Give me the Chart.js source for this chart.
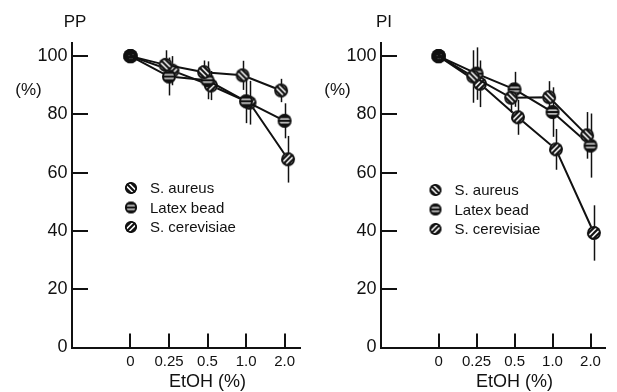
<!DOCTYPE html>
<html>
<head>
<meta charset="utf-8">
<script src="https://cdn.jsdelivr.net/npm/chart.js@4.4.1/dist/chart.umd.min.js"></script>
<style>
  html, body { margin: 0; padding: 0; background: #fff; }
  #wrap { position: relative; width: 617px; height: 392px; overflow: hidden; }
  .panel { position: absolute; top: 0; height: 392px; }
</style>
</head>
<body>
<div id="wrap">
  <div class="panel" style="left:0;width:309px"><canvas id="pp"></canvas></div>
  <div class="panel" style="left:309px;width:308px"><canvas id="pi"></canvas></div>
</div>
<script>
// ---- data ----
const categories = ['0', '0.25', '0.5', '1.0', '2.0'];
const yTicks = [0, 20, 40, 60, 80, 100];
const seriesNames = ['S. aureus', 'Latex bead', 'S. cerevisiae'];

// PP panel
const ppAureus    = [100, 97.0, 94.5, 93.4, 88.2];
const ppLatex     = [100, 93.0, 91.7, 84.5, 77.8];
const ppCerev     = [100, 95.0, 89.9, 84.0, 64.6];
const ppAureusErr = [0, 5.0, 4.0, 5.0, 4.0];
const ppLatexErr  = [0, 6.5, 6.5, 7.5, 6.0];
const ppCerevErr  = [0, 5.0, 5.0, 7.5, 8.0];

// PI panel
const piAureus    = [100, 93.0, 85.7, 85.9, 72.8];
const piLatex     = [100, 94.0, 88.6, 80.8, 69.3];
const piCerev     = [100, 90.5, 79.0, 68.0, 39.3];
const piAureusErr = [0, 9.0, 5.0, 5.5, 8.0];
const piLatexErr  = [0, 9.0, 6.0, 8.5, 11.0];
const piCerevErr  = [0, 8.0, 6.0, 7.0, 9.5];

// ---- styling ----
const INK = '#111';
const FONT = "'Liberation Sans', Arial, Helvetica, sans-serif";
const DODGE = [-0.09, 0, 0.09];

function makeMarker(kind, r) {
  const size = Math.ceil(r * 2 + 4);
  const c = document.createElement('canvas');
  c.width = size; c.height = size;
  const g = c.getContext('2d');
  const m = size / 2;
  g.beginPath(); g.arc(m, m, r, 0, Math.PI * 2);
  g.fillStyle = (kind === 'h' || kind === 'solid') ? INK : '#fff';
  g.fill();
  g.save();
  g.clip();
  g.translate(m, m);
  if (kind === 'h') {
    g.strokeStyle = '#fff'; g.lineWidth = 1.1;
    [-1.9, 1.9].forEach(o => { g.beginPath(); g.moveTo(-r - 2, o); g.lineTo(r + 2, o); g.stroke(); });
  } else if (kind === 'solid') {
    g.fillStyle = '#555';
    [[-2, -1], [1, 2], [2, -2], [-1, 2]].forEach(p => g.fillRect(p[0], p[1], 1, 1));
  } else {
    g.rotate(kind === 'b' ? Math.PI / 4 : -Math.PI / 4);
    g.strokeStyle = INK; g.lineWidth = 2.2;
    [-3.7, 0, 3.7].forEach(o => { g.beginPath(); g.moveTo(-r - 2, o); g.lineTo(r + 2, o); g.stroke(); });
  }
  g.restore();
  g.beginPath(); g.arc(m, m, r - 0.8, 0, Math.PI * 2);
  g.lineWidth = 1.8; g.strokeStyle = INK; g.stroke();
  return c;
}
const KINDS = ['b', 'h', 's'];
const dataMarkers = KINDS.map(k => makeMarker(k, 6.8));
const legendMarkers = KINDS.map(k => makeMarker(k, 6.0));
const startMarker = makeMarker('solid', 6.8);

const panelPlugin = {
  id: 'panelPlugin',
  beforeDatasetsDraw(chart) {
    // error bars (drawn under the markers)
    const ctx = chart.ctx, ys = chart.scales.y;
    ctx.save();
    ctx.strokeStyle = INK; ctx.lineWidth = 1.5;
    chart.data.datasets.forEach((ds, di) => {
      const meta = chart.getDatasetMeta(di);
      ds.err.forEach((e, i) => {
        if (!e) return;
        const pt = meta.data[i];
        const v = ds.data[i].y;
        ctx.beginPath();
        ctx.moveTo(Math.round(pt.x) + 0.5, ys.getPixelForValue(v + e));
        ctx.lineTo(Math.round(pt.x) + 0.5, ys.getPixelForValue(v - e));
        ctx.stroke();
      });
    });
    ctx.restore();
  },
  afterDraw(chart) {
    const o = chart.options.plugins.panelPlugin;
    const ctx = chart.ctx, a = chart.chartArea;
    const xs = chart.scales.x, ys = chart.scales.y;
    ctx.save();
    ctx.strokeStyle = INK; ctx.lineWidth = 2;
    // inner y ticks
    yTicks.forEach(v => {
      const y = Math.round(ys.getPixelForValue(v));
      ctx.beginPath(); ctx.moveTo(a.left, y); ctx.lineTo(a.left + 16.5, y); ctx.stroke();
    });
    // inner x ticks
    categories.forEach((c, i) => {
      const x = Math.round(xs.getPixelForValue(i));
      ctx.beginPath(); ctx.moveTo(x, a.bottom); ctx.lineTo(x, a.bottom - 14); ctx.stroke();
    });
    ctx.fillStyle = INK;
    // panel title
    ctx.font = '17px ' + FONT;
    ctx.textAlign = 'center'; ctx.textBaseline = 'middle';
    ctx.fillText(o.title, a.left + 3.5, 22);
    // (%) unit label
    ctx.fillText('(%)', a.left - 43, 90);
    // x axis title, centred on the category ticks
    ctx.font = '18px ' + FONT;
    ctx.fillText('EtOH (%)', xs.getPixelForValue((categories.length - 1) / 2), 382);
    // legend
    ctx.font = '15px ' + FONT;
    ctx.textAlign = 'left';
    seriesNames.forEach((name, k) => {
      const mx = a.left + o.legendDx, my = o.legendY + k * 19.5;
      const img = legendMarkers[k];
      ctx.drawImage(img, mx - img.width / 2, my - img.height / 2);
      ctx.fillText(name, mx + 19, my + 1);
    });
    ctx.restore();
  }
};

function build(canvasId, title, vals, errs, padRight, legendDx, legendY) {
  const datasets = vals.map((arr, k) => ({
    label: seriesNames[k],
    data: arr.map((v, i) => ({ x: i + (i === 0 ? 0 : DODGE[k]), y: v })),
    err: errs[k],
    borderColor: INK,
    borderWidth: 2,
    tension: 0,
    pointStyle: c => (c.dataIndex === 0 ? startMarker : dataMarkers[k]),
    pointRadius: 7,
    fill: false
  }));
  return new Chart(document.getElementById(canvasId), {
    type: 'line',
    data: { datasets },
    plugins: [panelPlugin],
    options: {
      responsive: true,
      maintainAspectRatio: false,
      animation: false,
      events: [],
      clip: false,
      layout: { padding: { top: 43, right: padRight, left: 0, bottom: 0 } },
      plugins: {
        legend: { display: false },
        tooltip: { enabled: false },
        panelPlugin: { title, legendDx, legendY }
      },
      scales: {
        x: {
          type: 'linear',
          min: -1.53,
          max: 4.4,
          grid: { display: false, drawTicks: false },
          border: { display: true, color: INK, width: 2 },
          afterBuildTicks: s => { s.ticks = categories.map((c, i) => ({ value: i })); },
          afterFit: s => { s.height = 44.5; },
          ticks: {
            color: INK,
            padding: 5,
            maxRotation: 0,
            autoSkip: false,
            font: { family: FONT, size: 15 },
            callback: v => categories[v]
          }
        },
        y: {
          min: 0,
          max: 104.5,
          grid: { display: false, drawTicks: false },
          border: { display: true, color: INK, width: 2 },
          afterBuildTicks: s => { s.ticks = yTicks.map(v => ({ value: v })); },
          afterFit: s => { s.width = 71.5; },
          ticks: {
            color: INK,
            padding: 4,
            font: { family: FONT, size: 18 }
          }
        }
      }
    }
  });
}

build('pp', 'PP',
  [ppAureus, ppLatex, ppCerev],
  [ppAureusErr, ppLatexErr, ppCerevErr],
  9, 59.5, 188);
build('pi', 'PI',
  [piAureus, piLatex, piCerev],
  [piAureusErr, piLatexErr, piCerevErr],
  11.3, 55, 190);
</script>
</body>
</html>
